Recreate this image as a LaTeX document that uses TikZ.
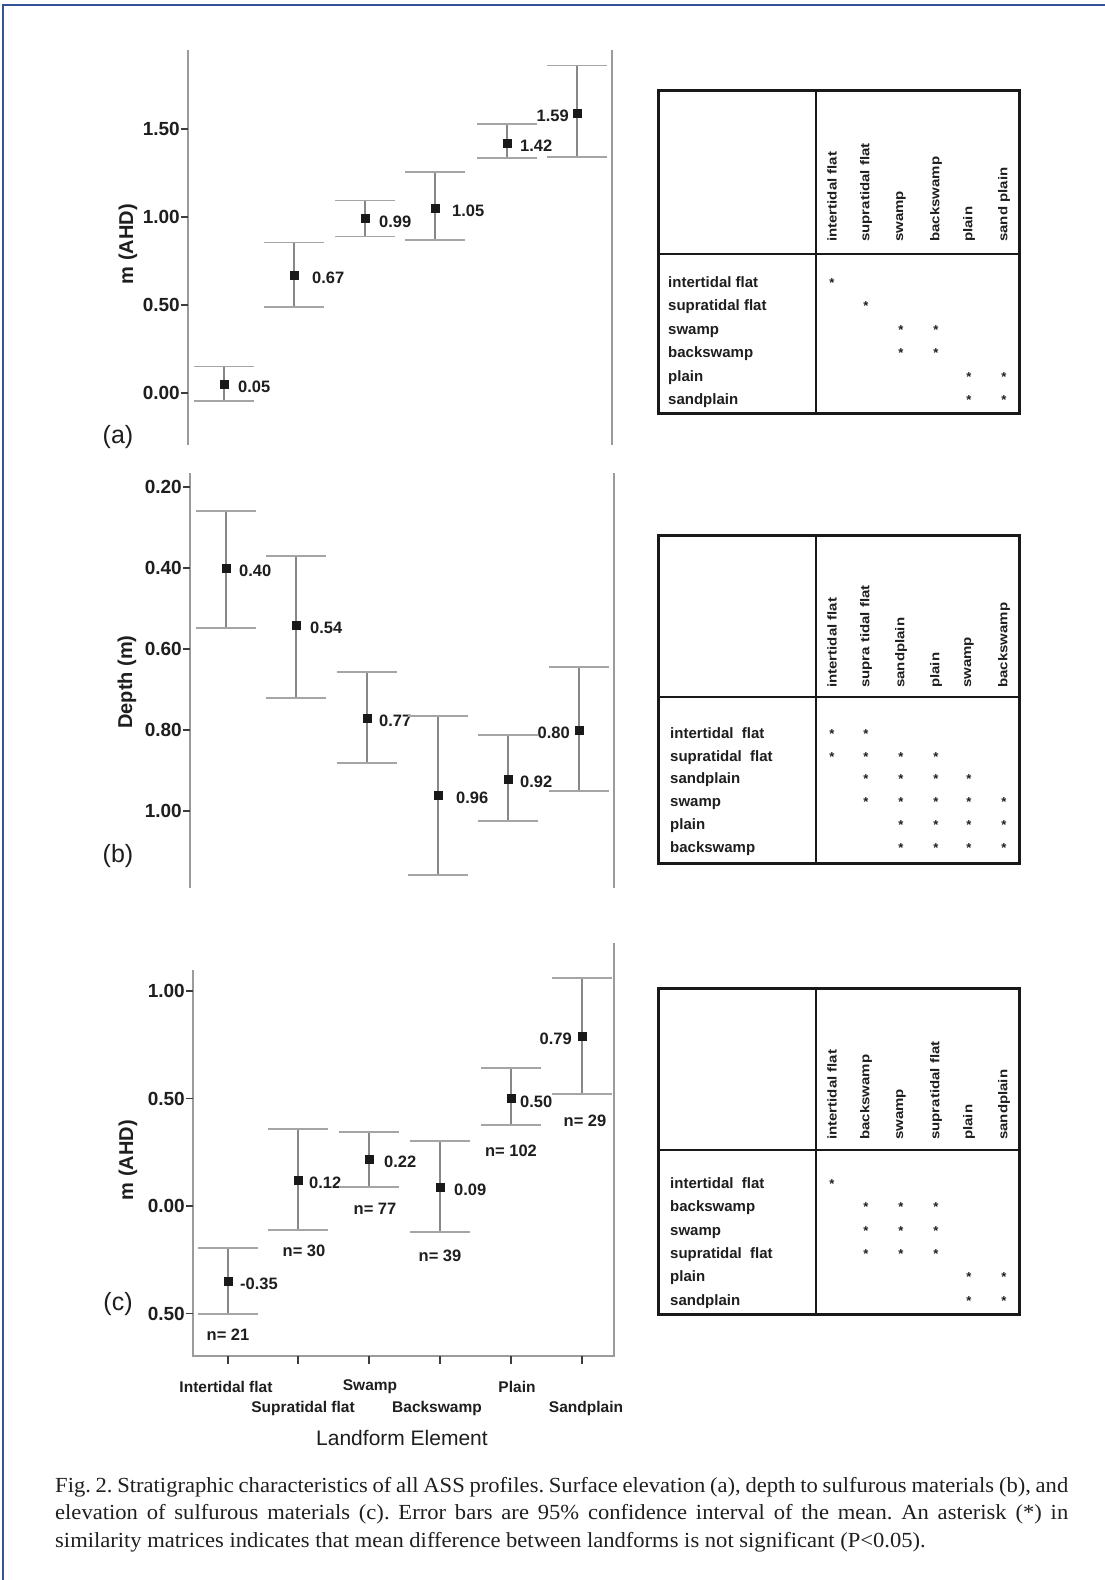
\documentclass[tikz,border=0pt]{standalone}
\usepackage{graphicx}
\usepackage{fontspec}
\setmainfont{Liberation Sans}
\newfontfamily\capfont[FakeStretch=1.05]{Liberation Serif}
\definecolor{framebl}{RGB}{52,82,150}
\definecolor{txt}{RGB}{30,30,30}
\definecolor{barc}{RGB}{135,135,135}
\definecolor{capc}{RGB}{165,165,165}
\definecolor{axc}{RGB}{155,155,155}
\definecolor{tickc}{RGB}{60,60,60}
\tikzset{
  framel/.style={draw=framebl, line width=2.5pt},
  ax/.style={draw=axc, line width=1.6pt},
  barv/.style={draw=barc, line width=1.3pt},
  capl/.style={draw=capc, line width=1.6pt},
  tickl/.style={draw=tickc, line width=1.6pt},
  mk/.style={fill=black!90, minimum size=9pt, inner sep=0pt, draw=none, rectangle},
  val/.style={font=\fontsize{16.5}{17}\selectfont\bfseries, text=txt, inner sep=0pt},
  nlab/.style={font=\fontsize{16.5}{17}\selectfont\bfseries, text=txt, inner sep=0pt},
  tlab/.style={font=\fontsize{19}{19}\selectfont\bfseries, text=txt, inner sep=0pt, anchor=east},
  ytitle/.style={font=\fontsize{20}{20}\selectfont\bfseries, text=txt, inner sep=0pt, rotate=90},
  plab/.style={font=\fontsize{25}{25}\selectfont, text=txt, inner sep=0pt},
  xcat/.style={font=\fontsize{15.5}{16}\selectfont\bfseries, text=txt, inner sep=0pt},
  xtitle/.style={font=\fontsize{21}{21}\selectfont, text=txt, inner sep=0pt},
  mout/.style={draw=black!90, line width=3pt},
  minn/.style={draw=black!90, line width=2pt},
  rowl/.style={font=\fontsize{15}{15}\selectfont\bfseries, text=txt, inner sep=0pt, anchor=base west},
  coll/.style={font=\fontsize{15}{15}\selectfont\bfseries, text=txt, inner sep=0pt, rotate=90, anchor=west},
  ast/.style={font=\fontsize{13}{13}\selectfont\bfseries, text=txt, inner sep=0pt, anchor=base},
  capt/.style={font=\capfont\fontsize{21.5}{22}\selectfont\frenchspacing, text=black!88, inner sep=0pt, anchor=base west},
}
\newcommand\ebar[8]{%
  \draw[barv] (#2,#3) -- (#2,#5);
  \draw[capl] ({#2-30},#3) -- ({#2+30},#3);
  \draw[capl] ({#2-30},#5) -- ({#2+30},#5);
  \node[mk] (#1) at (#2,#4) {};
  \node[val,anchor=#7] (#1l) at ({#2+#8},{#4+3}) {#6};
}
\newcommand\colt[1]{\scalebox{1}[0.85]{#1}}
\begin{document}
\begin{tikzpicture}[x=1pt,y=-1pt]
\useasboundingbox (0,0) rectangle (1105,1580);
\fill[white] (0,0) rectangle (1105,1580);
\draw[framel] (1105,5) -- (3,5) -- (3,1580);

% ---------------- panel (a)
\draw[ax] (188,50) -- (188,445);
\draw[ax] (612,50) -- (612,445);
\foreach \v/\y [count=\i] in {1.50/129,1.00/217,0.50/305,0.00/393}{
  \draw[tickl] (181,\y) -- (188,\y);
  \node[tlab] (ta\i) at (180,\y) {\v};
}
\node[ytitle] (yta) at (128,244) {m (AHD)};
\node[plab] (pa) at (118,437) {(a)};
\ebar{a1}{224}{366.6}{384.2}{400.9}{0.05}{west}{14}
\ebar{a2}{294}{242.5}{275.1}{306.8}{0.67}{west}{18}
\ebar{a3}{365}{200.3}{218.8}{236.4}{0.99}{west}{14}
\ebar{a4}{435}{172.1}{208.2}{239.9}{1.05}{west}{17}
\ebar{a5}{507}{123.7}{143.1}{158.0}{1.42}{west}{13}
\ebar{a6}{577}{65.6}{113.2}{157.2}{1.59}{east}{-8}

% ---------------- panel (b)
\draw[ax] (190,473) -- (190,888);
\draw[ax] (614,473) -- (614,888);
\foreach \v/\y [count=\i] in {0.20/487,0.40/568,0.60/649,0.80/730,1.00/811}{
  \draw[tickl] (183,\y) -- (190,\y);
  \node[tlab] (tb\i) at (182,\y) {\v};
}
\node[ytitle] (ytb) at (127,682) {Depth (m)};
\node[plab] (pb) at (118,856) {(b)};
\ebar{b1}{226}{511}{568}{628}{0.40}{west}{13}
\ebar{b2}{296}{556}{625}{698}{0.54}{west}{14}
\ebar{b3}{367}{672}{718}{763}{0.77}{west}{12}
\ebar{b4}{438}{716}{795}{875}{0.96}{west}{18}
\ebar{b5}{508}{735}{779}{821}{0.92}{west}{12}
\ebar{b6}{579}{667}{730}{791}{0.80}{east}{-9}

% ---------------- panel (c)
\draw[ax] (193,970) -- (193,1356) -- (614,1356) -- (614,943);
\foreach \v/\y [count=\i] in {1.00/991,0.50/1098.5,0.00/1206,0.50/1313.5}{
  \draw[tickl] (186,\y) -- (193,\y);
  \node[tlab] (tc\i) at (185,\y) {\v};
}
\foreach \x [count=\i] in {228,298,369,440,511,582}{
  \draw[tickl] (\x,1356) -- (\x,1364);
}
\node[ytitle] (ytc) at (128,1160) {m (AHD)};
\node[plab] (pc) at (118,1304) {(c)};
\ebar{c1}{228}{1248}{1281}{1314}{-0.35}{west}{12}
\ebar{c2}{298}{1129}{1180}{1230}{0.12}{west}{11}
\ebar{c3}{369}{1132}{1159}{1187}{0.22}{west}{15}
\ebar{c4}{440}{1141}{1187}{1232}{0.09}{west}{14}
\ebar{c5}{511}{1068}{1098.5}{1125}{0.50}{west}{9}
\ebar{c6}{582}{978}{1036}{1094}{0.79}{east}{-10}
\node[nlab] (n1) at (228,1335) {n= 21};
\node[nlab] (n2) at (304,1251) {n= 30};
\node[nlab] (n3) at (375,1209) {n= 77};
\node[nlab] (n4) at (440,1256) {n= 39};
\node[nlab] (n5) at (511,1151) {n= 102};
\node[nlab] (n6) at (585,1121) {n= 29};
\node[xcat] (x1) at (226,1387) {Intertidal flat};
\node[xcat] (x2) at (303,1408) {Supratidal flat};
\node[xcat] (x3) at (370,1387) {Swamp};
\node[xcat] (x4) at (437,1408) {Backswamp};
\node[xcat] (x5) at (517,1387) {Plain};
\node[xcat] (x6) at (586,1408) {Sandplain};
\node[xtitle] (xt) at (402,1438) {Landform Element};

% ---------------- matrix (a)
\draw[mout] (658,90) rectangle (1019,413);
\draw[minn] (816,90) -- (816,413);
\draw[minn] (658,254) -- (1019,254);
\foreach \t/\x [count=\i] in {intertidal flat/832,supratidal flat/866,swamp/901,backswamp/936,plain/969,sand plain/1004}{
  \node[coll] (mac\i) at (\x,242) {\colt{\t}};
}
\foreach \t/\y [count=\i] in {intertidal flat/282,supratidal flat/305,swamp/329,backswamp/352,plain/376,sandplain/399}{
  \node[rowl] (mar\i) at (668,\y+5) {\t};
}
\foreach \r/\c in {1/1,2/2,3/3,3/4,4/3,4/4,5/5,5/6,6/5,6/6}{
  \pgfmathsetmacro\ax{{832,866,901,936,969,1004}[\c-1]}
  \pgfmathsetmacro\ay{{282,305,329,352,376,399}[\r-1]}
  \node[ast] (maa\r\c) at (\ax,\ay+5) {*};
}

% ---------------- matrix (b)
\draw[mout] (658,535) rectangle (1019,863);
\draw[minn] (816,535) -- (816,863);
\draw[minn] (658,697) -- (1019,697);
\foreach \t/\x [count=\i] in {intertidal flat/832,supra tidal flat/866,sandplain/901,plain/936,swamp/969,backswamp/1004}{
  \node[coll] (mbc\i) at (\x,688) {\colt{\t}};
}
\foreach \t/\y [count=\i] in {intertidal\ \ flat/733,supratidal\ \ flat/756,sandplain/778,swamp/801,plain/824,backswamp/847}{
  \node[rowl] (mbr\i) at (670,\y+5) {\t};
}
\foreach \r/\c in {1/1,1/2,2/1,2/2,2/3,2/4,3/2,3/3,3/4,3/5,4/2,4/3,4/4,4/5,4/6,5/3,5/4,5/5,5/6,6/3,6/4,6/5,6/6}{
  \pgfmathsetmacro\ax{{832,866,901,936,969,1004}[\c-1]}
  \pgfmathsetmacro\ay{{733,756,778,801,824,847}[\r-1]}
  \node[ast] (mba\r\c) at (\ax,\ay+5) {*};
}

% ---------------- matrix (c)
\draw[mout] (658,988) rectangle (1019,1314);
\draw[minn] (816,988) -- (816,1314);
\draw[minn] (658,1150) -- (1019,1150);
\foreach \t/\x [count=\i] in {intertidal flat/832,backswamp/866,swamp/901,supratidal flat/936,plain/969,sandplain/1004}{
  \node[coll] (mcc\i) at (\x,1140) {\colt{\t}};
}
\foreach \t/\y [count=\i] in {intertidal\ \ flat/1183,backswamp/1206,swamp/1230,supratidal\ \ flat/1253,plain/1276,sandplain/1300}{
  \node[rowl] (mcr\i) at (670,\y+5) {\t};
}
\foreach \r/\c in {1/1,2/2,2/3,2/4,3/2,3/3,3/4,4/2,4/3,4/4,5/5,5/6,6/5,6/6}{
  \pgfmathsetmacro\ax{{832,866,901,936,969,1004}[\c-1]}
  \pgfmathsetmacro\ay{{1183,1206,1230,1253,1276,1300}[\r-1]}
  \node[ast] (mca\r\c) at (\ax,\ay+5) {*};
}

% ---------------- caption
\node[capt] (cap1) at (55,1492) {\makebox[1013pt][s]{Fig. 2. Stratigraphic characteristics of all ASS profiles. Surface elevation (a), depth to sulfurous materials (b), and}};
\node[capt] (cap2) at (55,1519.5) {\makebox[1013pt][s]{elevation of sulfurous materials (c). Error bars are 95\% confidence interval of the mean. An asterisk (*) in}};
\node[capt] (cap3) at (55,1547) {similarity matrices indicates that mean difference between landforms is not significant (P<0.05).};
\end{tikzpicture}
\end{document}
